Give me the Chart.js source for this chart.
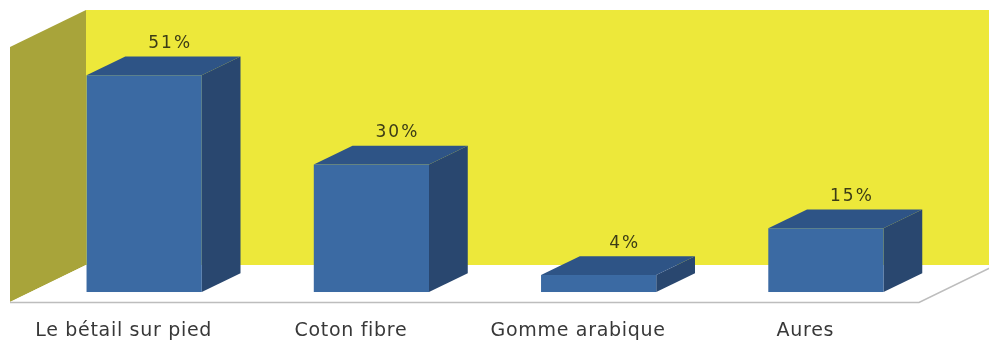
<!DOCTYPE html>
<html>
<head>
<meta charset="utf-8">
<script src="https://cdn.jsdelivr.net/npm/chart.js@4"></script>
<style>
  html, body { margin: 0; padding: 0; background: #ffffff; }
  #wrap { width: 989px; height: 344px; }
</style>
</head>
<body>
<div id="wrap"><canvas id="c" width="989" height="344"></canvas></div>
<script>
// Export shares by product (%)
const categories = ['Le bétail sur pied', 'Coton fibre', 'Gomme arabique', 'Aures'];
const shares = [51, 30, 4, 15];
const valueLabels = ['51%', '30%', '4%', '15%'];
const axisMax = 60;

// 3D look: depth of the box (walls) and where the bars sit inside it
const DEPTH_X = 76, DEPTH_Y = 37;
const BAR_FRONT = 0.27, BAR_BACK = 0.78;

const COLORS = {
  backWall: '#EDE83A',
  sideWall: '#A8A43A',
  floorLine: '#BDBDBD',
  barFront: '#3B6AA3',
  barSide: '#29476F',
  barTop: '#2E5486',
  valueText: '#3C3C16'
};

const boxPlugin = {
  id: 'box3d',
  beforeDraw(chart) {
    // slightly airy lettering for the category labels
    chart.ctx.letterSpacing = '0.7px';
  },
  beforeDatasetsDraw(chart) {
    const { ctx, chartArea: a } = chart;
    ctx.save();
    // back wall
    ctx.fillStyle = COLORS.backWall;
    ctx.fillRect(a.left + DEPTH_X, a.top - DEPTH_Y, a.right - a.left + 2, a.bottom - a.top);
    // left side wall
    ctx.fillStyle = COLORS.sideWall;
    ctx.beginPath();
    ctx.moveTo(a.left, a.top);
    ctx.lineTo(a.left + DEPTH_X, a.top - DEPTH_Y);
    ctx.lineTo(a.left + DEPTH_X, a.bottom - DEPTH_Y);
    ctx.lineTo(a.left, a.bottom);
    ctx.closePath();
    ctx.fill();
    // floor (white) and its outer edges
    ctx.fillStyle = '#ffffff';
    ctx.beginPath();
    ctx.moveTo(a.left, a.bottom);
    ctx.lineTo(a.right, a.bottom);
    ctx.lineTo(a.right + DEPTH_X, a.bottom - DEPTH_Y);
    ctx.lineTo(a.left + DEPTH_X, a.bottom - DEPTH_Y);
    ctx.closePath();
    ctx.fill();
    ctx.strokeStyle = COLORS.floorLine;
    ctx.lineWidth = 1.5;
    ctx.beginPath();
    ctx.moveTo(a.left, a.bottom + 0.5);
    ctx.lineTo(a.right, a.bottom + 0.5);
    ctx.lineTo(a.right + DEPTH_X, a.bottom - DEPTH_Y + 0.5);
    ctx.stroke();
    ctx.restore();
  },
  afterDatasetsDraw(chart) {
    const { ctx } = chart;
    const meta = chart.getDatasetMeta(0);
    const fx = DEPTH_X * BAR_FRONT, fy = DEPTH_Y * BAR_FRONT;
    const dx = DEPTH_X * (BAR_BACK - BAR_FRONT), dy = DEPTH_Y * (BAR_BACK - BAR_FRONT);
    ctx.save();
    meta.data.forEach((bar, i) => {
      const p = bar.getProps(['x', 'y', 'base', 'width'], true);
      const l = p.x - p.width / 2 + fx, r = p.x + p.width / 2 + fx;
      const t = p.y - fy, b = p.base - fy;
      // side face
      ctx.fillStyle = COLORS.barSide;
      ctx.beginPath();
      ctx.moveTo(r, t); ctx.lineTo(r + dx, t - dy);
      ctx.lineTo(r + dx, b - dy); ctx.lineTo(r, b);
      ctx.closePath(); ctx.fill();
      // top face
      ctx.fillStyle = COLORS.barTop;
      ctx.beginPath();
      ctx.moveTo(l, t); ctx.lineTo(l + dx, t - dy);
      ctx.lineTo(r + dx, t - dy); ctx.lineTo(r, t);
      ctx.closePath(); ctx.fill();
      // front face
      ctx.fillStyle = COLORS.barFront;
      ctx.fillRect(l, t, r - l, b - t);
      // value label above the bar
      ctx.fillStyle = COLORS.valueText;
      ctx.font = '17px "DejaVu Sans"';
      ctx.letterSpacing = '2px';
      ctx.textAlign = 'center';
      ctx.textBaseline = 'middle';
      ctx.fillText(valueLabels[i], p.x + fx + 26, t - dy - 13);
    });
    ctx.restore();
  }
};

new Chart(document.getElementById('c'), {
  type: 'bar',
  data: {
    labels: categories,
    datasets: [{
      data: shares,
      backgroundColor: 'rgba(0,0,0,0)',
      borderWidth: 0,
      categoryPercentage: 1,
      barPercentage: 0.507
    }]
  },
  options: {
    responsive: false,
    animation: false,
    devicePixelRatio: 1,
    layout: { padding: { left: 10, right: 70, top: 47, bottom: 0 } },
    plugins: { legend: { display: false }, tooltip: { enabled: false } },
    scales: {
      x: {
        grid: { display: false, drawTicks: false },
        border: { display: false },
        afterFit(scale) { scale.height = 42; },
        ticks: {
          color: '#383838',
          padding: 18,
          maxRotation: 0,
          font: { family: '"DejaVu Sans"', size: 19 }
        }
      },
      y: {
        display: false,
        min: 0,
        max: axisMax
      }
    }
  },
  plugins: [boxPlugin]
});
</script>
</body>
</html>
